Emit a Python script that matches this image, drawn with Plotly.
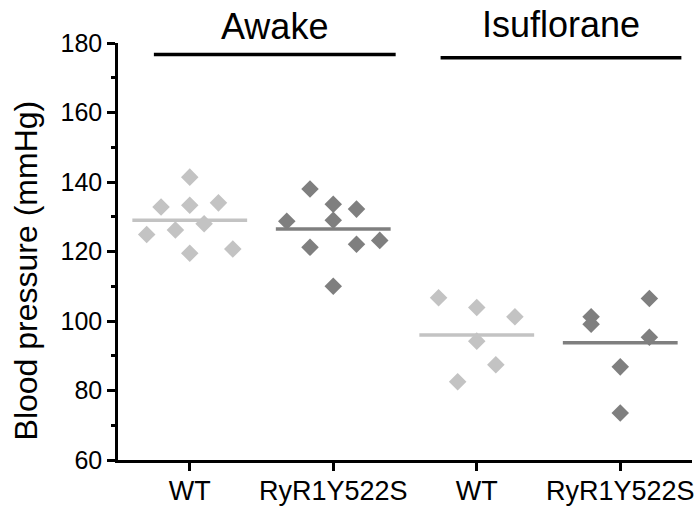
import plotly.graph_objects as go

# Group positions on the categorical x axis
categories = ["WT", "RyR1Y522S", "WT", "RyR1Y522S"]
positions = [1, 2, 3, 4]

# Blood pressure readings (mmHg)
awake_wt = [141.4, 133.3, 119.5, 132.8, 134.0, 124.9, 126.2, 128.0, 120.7]
awake_ryr = [128.7, 138.0, 133.6, 129.0, 132.2, 121.2, 122.1, 123.2, 110.0]
iso_wt = [106.7, 103.9, 101.2, 94.2, 87.4, 82.5]
iso_ryr = [106.5, 101.2, 99.1, 95.3, 86.8, 73.5]

# Beeswarm slot of each reading (integer column within its group)
awake_wt_slot = [0, 0, 0, -2, 2, -3, -1, 1, 3]
awake_ryr_slot = [-2, -1, 0, 0, 1, -1, 1, 2, 0]
iso_wt_slot = [-2, 0, 2, 0, 1, -1]
iso_ryr_slot = [1, -1, -1, 1, 0, 0]

y_ticks = [60, 80, 100, 120, 140, 160, 180]

LIGHT = "#c3c3c3"
DARK = "#7f7f7f"
FONT = "Liberation Sans, Arial, sans-serif"

groups = [
    (awake_wt, awake_wt_slot, positions[0], 0.100, LIGHT),
    (awake_ryr, awake_ryr_slot, positions[1], 0.162, DARK),
    (iso_wt, iso_wt_slot, positions[2], 0.133, LIGHT),
    (iso_ryr, iso_ryr_slot, positions[3], 0.203, DARK),
]

fig = go.Figure()
for values, slots, pos, step, color in groups:
    xs = [pos + s * step for s in slots]
    fig.add_trace(go.Scatter(
        x=xs, y=values, mode="markers",
        marker=dict(symbol="diamond", size=13.5, color=color, line=dict(width=0)),
        showlegend=False, hoverinfo="y",
    ))
    mean = sum(values) / len(values)
    fig.add_trace(go.Scatter(
        x=[pos - 0.4, pos + 0.4], y=[mean, mean], mode="lines",
        line=dict(color=color, width=3.5),
        showlegend=False, hoverinfo="skip",
    ))

# Condition brackets above the groups
brackets = [("Awake", 0.75, 2.435, 0.9725, 1.039), ("Isuflorane", 2.748, 4.426, 0.9644, 1.045)]
for label, x0, x1, yline, ytext in brackets:
    fig.add_shape(type="line", xref="x", yref="paper", x0=x0, x1=x1, y0=yline, y1=yline,
                  line=dict(color="black", width=3.5))
    fig.add_annotation(text=label, xref="x", yref="paper", x=(x0 + x1) / 2, y=ytext,
                       xanchor="center", yanchor="middle", showarrow=False,
                       font=dict(family=FONT, size=36, color="black"))

fig.add_annotation(text="Blood pressure (mmHg)", textangle=-90, xref="paper", yref="paper",
                   x=-0.16, y=0.455, xanchor="center", yanchor="middle", showarrow=False,
                   font=dict(family=FONT, size=32, color="black"))

fig.update_layout(
    width=699, height=511,
    margin=dict(l=118, r=5, t=43, b=47),
    plot_bgcolor="white", paper_bgcolor="white",
    font=dict(family=FONT, size=25, color="black"),
    xaxis=dict(
        range=[0.5, 4.5], tickvals=positions, ticktext=categories,
        showline=True, linecolor="black", linewidth=2.5,
        ticks="outside", ticklen=8, tickwidth=2.5, tickcolor="black",
        showgrid=False, zeroline=False, tickfont=dict(size=27),
        ticklabelstandoff=-3,
    ),
    yaxis=dict(
        range=[60, 180], tickvals=y_ticks,
        showline=True, linecolor="black", linewidth=2.5,
        ticks="outside", ticklen=8, tickwidth=2.5, tickcolor="black",
        minor=dict(dtick=10, ticks="outside", ticklen=4, tickwidth=2.5, tickcolor="black"),
        showgrid=False, zeroline=False, tickfont=dict(size=25),
    ),
)

fig.write_html("out.html")
